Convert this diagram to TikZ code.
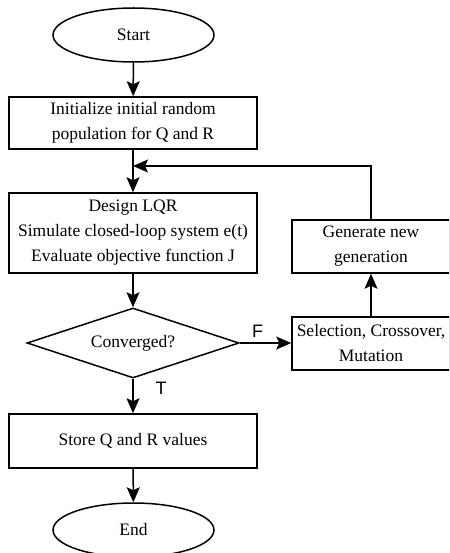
\documentclass[tikz,border=0pt]{standalone}
\usepackage{fontspec}
\setmainfont{Liberation Serif}
\newfontfamily\labfont{Liberation Sans}
\usetikzlibrary{shapes.geometric,arrows.meta,positioning}
\begin{document}
\begin{tikzpicture}[x=1pt,y=1pt,
  every node/.style={font=\fontsize{17.5}{25}\selectfont},
  term/.style={draw,ellipse,line width=1.5pt,minimum width=161pt,minimum height=54pt,inner sep=0pt},
  proc/.style={draw,rectangle,line width=1.5pt,align=center,inner sep=0pt},
  dec/.style={draw,diamond,shape aspect=3,line width=1.5pt,minimum width=212pt,minimum height=70pt,inner sep=0pt},
  conn/.style={line width=1.5pt,-{Stealth[length=15pt,width=13pt,inset=3pt]}},
  lab/.style={font=\labfont\fontsize{18}{20}\selectfont}]
\useasboundingbox (0,0) rectangle (449,-553);
\clip (0,0) rectangle (449,-553);
\node[term] (start) at (133.5,-35) {Start};
\node[proc,minimum width=248pt,minimum height=52pt] (init) at (133,-123) {Initialize initial random\\population for Q and R};
\node[proc,minimum width=248pt,minimum height=80pt] (design) at (133,-233) {Design LQR\\Simulate closed-loop system e(t)\\Evaluate objective function J};
\node[dec] (conv) at (133,-343) {Converged?};
\node[proc,minimum width=158pt,minimum height=53pt] (gen) at (371,-246.5) {Generate new\\generation};
\node[proc,minimum width=158pt,minimum height=53pt] (sel) at (371,-343.5) {Selection, Crossover,\\Mutation};
\node[proc,minimum width=248pt,minimum height=54pt] (store) at (133,-441) {Store Q and R values};
\node[term] (end) at (133.5,-530) {End};
\coordinate (j) at (133,-166);
\draw[conn] (start) -- (init);
\draw[conn] (init) -- (design);
\draw[conn] (gen.north) |- (j);
\draw[conn] (design) -- (conv);
\draw[conn] (conv.east) -- (sel.west|-conv.east);
\draw[conn] (sel) -- (gen);
\draw[conn] (conv) -- (store);
\draw[conn] (store) -- (end);
\node[lab] (F) at (257.5,-331.5) {F};
\node[lab] (T) at (161,-388.5) {T};
\end{tikzpicture}
\end{document}
